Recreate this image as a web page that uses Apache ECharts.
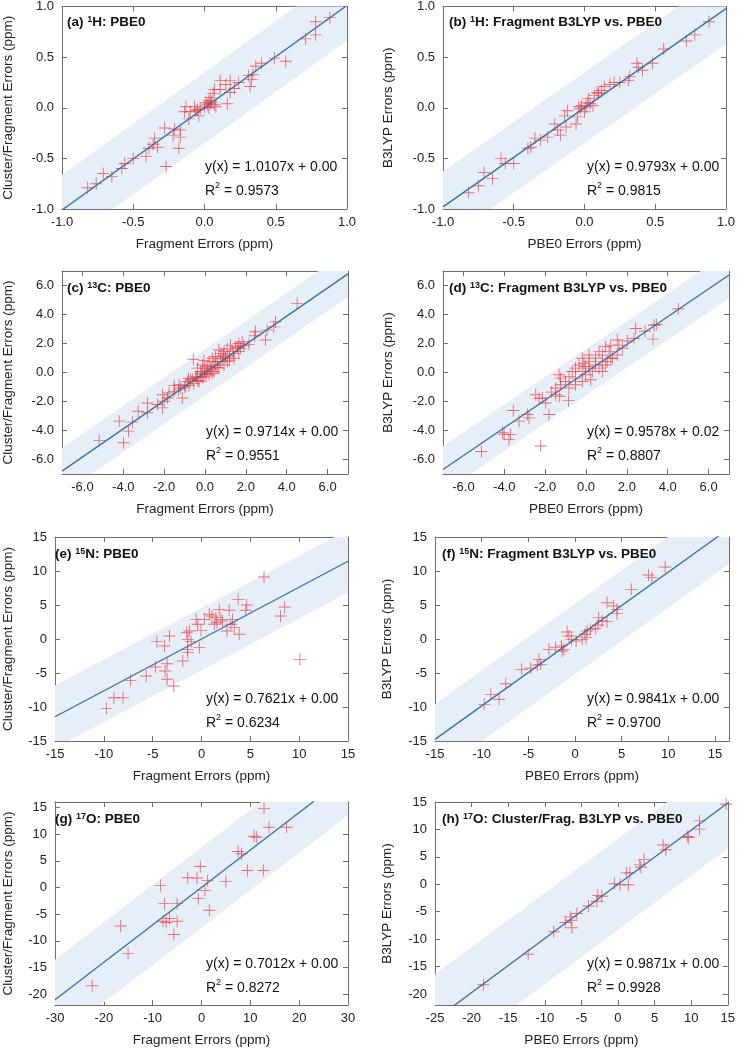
<!DOCTYPE html>
<html>
<head>
<meta charset="utf-8">
<script src="https://cdn.jsdelivr.net/npm/echarts@6/dist/echarts.min.js"></script>
<style>
html, body { margin: 0; padding: 0; background: #fff; }
#chart { width: 738px; height: 1048px; }
</style>
</head>
<body>
<div id="chart"></div>
<script>
// 各面板的数据点 (x, y)
var ptsA = [[0.88,0.89],[0.78,0.85],[0.78,0.72],[0.71,0.68],[0.49,0.49],[0.57,0.46],[0.36,0.41],[0.40,0.44],[0.34,0.33],[0.31,0.32],[0.33,0.28],[0.32,0.21],[0.24,0.25],[0.21,0.19],[0.18,0.27],[0.15,0.23],[0.11,0.27],[0.11,0.18],[0.18,0.15],[0.16,0.04],[0.07,0.18],[0.06,0.14],[0.04,0.10],[0.03,0.07],[0.01,0.05],[0.04,0.04],[0.00,0.01],[0.07,0.03],[0.08,0.01],[-0.03,-0.01],[-0.06,-0.03],[-0.07,0.01],[-0.10,-0.04],[-0.13,0.01],[-0.14,-0.04],[-0.11,-0.11],[-0.04,-0.08],[-0.21,-0.21],[-0.28,-0.20],[-0.22,-0.27],[-0.17,-0.22],[-0.17,-0.29],[-0.18,-0.40],[-0.27,-0.58],[-0.35,-0.30],[-0.36,-0.36],[-0.33,-0.39],[-0.39,-0.40],[-0.41,-0.48],[-0.56,-0.55],[-0.58,-0.60],[-0.50,-0.50],[-0.71,-0.65],[-0.65,-0.68],[-0.76,-0.75],[-0.82,-0.79],[0.02,0.03],[0.05,0.06],[-0.05,-0.02],[0.03,0.00]];
var ptsB = [[0.88,0.85],[0.78,0.72],[0.72,0.66],[0.56,0.58],[0.48,0.44],[0.37,0.44],[0.38,0.40],[0.41,0.37],[0.31,0.27],[0.32,0.31],[0.21,0.25],[0.18,0.23],[0.14,0.21],[0.12,0.17],[0.09,0.15],[0.07,0.12],[0.03,0.09],[0.04,0.04],[0.01,0.01],[-0.03,-0.01],[-0.04,0.01],[0.00,-0.04],[-0.05,-0.09],[-0.06,-0.16],[-0.12,-0.03],[-0.14,-0.08],[-0.13,-0.19],[-0.21,-0.16],[-0.19,-0.22],[-0.17,-0.27],[-0.26,-0.29],[-0.31,-0.32],[-0.35,-0.30],[-0.38,-0.39],[-0.40,-0.40],[-0.56,-0.55],[-0.59,-0.50],[-0.50,-0.55],[-0.71,-0.64],[-0.65,-0.70],[-0.75,-0.77],[-0.82,-0.84],[0.02,0.05],[0.06,0.02],[-0.02,0.02],[0.10,0.14],[0.25,0.25]];
var ptsC = [[4.51,4.75],[3.45,3.49],[3.37,3.15],[3.04,2.92],[2.96,2.24],[2.47,2.81],[2.43,2.53],[2.15,1.94],[1.82,2.12],[1.66,2.00],[1.50,1.78],[1.25,1.89],[1.09,1.62],[1.33,1.44],[0.93,1.44],[0.77,1.32],[0.68,1.55],[0.52,1.10],[0.60,0.75],[0.36,0.98],[0.20,0.75],[-0.05,0.82],[-0.57,0.91],[-0.13,0.52],[0.11,0.41],[-0.37,0.30],[-0.21,0.07],[-0.02,-0.05],[0.20,-0.16],[0.44,0.07],[0.68,0.30],[0.93,0.52],[1.09,0.75],[1.42,0.98],[1.66,1.44],[1.74,1.67],[-0.46,-0.27],[-0.70,-0.50],[-0.29,-0.62],[-0.86,-0.62],[-0.94,-0.89],[-1.19,-1.07],[-1.27,-0.84],[-1.11,-1.76],[-1.51,-1.30],[-1.76,-1.41],[-1.84,-1.76],[-2.08,-1.53],[-2.00,-1.98],[-2.08,-2.44],[-2.33,-2.21],[-2.82,-2.10],[-2.82,-2.78],[-3.27,-2.67],[-3.55,-3.42],[-3.74,-4.04],[-3.99,-4.84],[-4.20,-3.35],[-5.18,-4.68],[-1.51,-0.89],[-0.21,-0.27],[0.28,0.30],[0.44,0.75],[0.77,0.75],[-0.78,-0.89],[-0.60,-0.45],[-0.40,-0.35],[0.10,0.10],[0.30,0.20],[0.50,0.50],[0.85,0.95],[1.00,1.05],[1.20,1.15],[-1.00,-1.00],[-0.15,-0.10],[0.00,0.30],[0.60,0.35],[1.40,1.30],[0.90,1.20],[1.60,1.70],[1.90,1.85],[-0.35,-0.55],[-0.10,-0.35],[0.05,-0.25],[0.35,-0.05],[1.20,0.85],[-0.55,-0.75],[-1.30,-1.20],[-0.80,-0.40]];
var ptsD = [[4.52,4.40],[3.44,3.31],[3.33,3.26],[2.89,2.85],[3.28,2.30],[2.43,3.03],[2.35,2.35],[2.02,2.17],[1.53,2.24],[1.61,1.89],[1.21,1.89],[0.96,1.78],[1.21,0.98],[1.04,0.75],[0.80,1.21],[0.64,1.44],[0.47,0.98],[0.15,1.21],[0.15,0.75],[-0.10,0.64],[-0.18,0.98],[-0.34,0.52],[-0.51,0.30],[-0.67,0.07],[-0.83,-0.27],[-1.24,-0.39],[-1.32,-0.16],[-1.00,-0.62],[-1.24,-0.84],[-1.48,-1.07],[-1.68,-1.35],[-1.48,-1.53],[-1.29,-1.64],[-0.86,-1.94],[-1.81,-2.90],[-2.14,-1.76],[-2.46,-1.53],[-2.30,-1.80],[-1.97,-2.10],[-2.22,-5.07],[-2.79,-3.13],[-2.87,-2.90],[-3.56,-2.62],[-3.28,-3.35],[-3.69,-4.27],[-4.09,-4.15],[-4.01,-4.27],[-3.77,-4.61],[-5.12,-5.45],[-0.18,0.07],[0.15,0.30],[0.47,0.52],[0.80,0.75],[-0.02,-0.16],[0.31,0.07],[0.64,0.30],[0.96,0.52],[-0.51,-0.39],[-0.18,-0.62],[0.23,-0.50],[0.80,0.07],[1.29,0.98],[1.53,1.21],[-0.51,-0.84],[-0.83,-1.07],[-0.02,0.41],[1.13,1.44],[1.78,1.67]];
var ptsE = [[6.40,9.12],[10.07,-2.99],[8.51,4.71],[8.10,3.38],[3.75,5.83],[4.64,5.00],[4.53,4.22],[2.84,4.22],[1.82,4.36],[0.80,3.63],[1.07,3.38],[0.29,2.89],[1.48,3.14],[1.99,2.89],[3.18,2.89],[3.00,2.16],[3.35,1.67],[1.31,2.16],[1.58,2.40],[2.16,2.65],[2.60,1.18],[3.86,0.69],[-0.39,2.16],[-0.56,2.89],[-0.05,1.27],[-1.24,1.18],[-1.41,-0.05],[-1.07,-0.39],[-0.22,-1.27],[-1.51,0.93],[-1.41,-1.52],[-1.41,-2.00],[-1.92,-3.24],[-3.28,0.44],[-3.79,-1.03],[-4.57,-0.39],[-3.52,-3.63],[-3.72,-4.71],[-4.71,-4.12],[-3.52,-5.93],[-2.84,-6.91],[-5.66,-5.44],[-7.26,-6.08],[-8.04,-8.63],[-8.96,-8.63],[-9.74,-10.20]];
var ptsF = [[9.66,10.59],[7.88,9.41],[8.24,9.02],[6.03,7.30],[3.43,5.34],[4.14,4.85],[4.50,4.36],[4.50,3.73],[3.43,2.55],[2.54,3.14],[2.90,2.65],[2.47,2.06],[2.19,1.57],[1.65,1.42],[1.30,1.18],[1.05,0.69],[1.19,0.20],[0.77,-0.05],[0.12,-0.29],[-0.37,-0.05],[-0.84,1.03],[-0.66,0.44],[-2.08,-1.27],[-1.44,-1.03],[-1.37,-1.76],[-1.19,-1.52],[-2.79,-1.52],[-3.86,-2.99],[-3.68,-3.73],[-4.04,-3.82],[-4.75,-4.31],[-5.71,-4.46],[-7.42,-6.57],[-9.02,-8.14],[-8.13,-8.87],[-9.73,-9.61]];
var ptsG = [[12.81,14.81],[13.82,11.27],[17.42,11.27],[10.77,9.58],[11.31,9.40],[7.51,6.73],[8.19,6.30],[9.41,3.19],[12.67,3.19],[4.99,1.14],[-0.24,3.93],[-2.82,1.82],[-0.92,1.76],[1.26,1.32],[0.71,-0.54],[-0.65,-2.09],[1.60,-4.27],[-4.99,-3.03],[-8.39,0.39],[-7.57,-3.03],[-7.91,-6.32],[-7.24,-6.57],[-6.56,-5.82],[-4.99,-6.32],[-5.67,-8.80],[-16.54,-7.20],[-15.04,-12.38],[-22.38,-18.40]];
var ptsH = [[14.78,14.58],[11.15,11.56],[11.15,10.05],[9.47,8.72],[9.66,8.54],[6.17,7.16],[6.53,6.30],[3.57,4.50],[2.98,3.54],[3.13,3.11],[1.64,2.09],[1.18,2.09],[1.41,-0.08],[0.28,-0.08],[-0.49,0.10],[-2.21,-2.19],[-2.76,-2.01],[-2.90,-3.10],[-4.03,-3.95],[-5.62,-5.33],[-6.52,-5.94],[-6.39,-6.54],[-7.20,-6.96],[-6.29,-7.93],[-8.78,-8.65],[-12.27,-12.75],[-18.39,-18.30]];

// 拟合参数 (斜率, 截距, R2) 和阴影带半宽
var slopes = [1.0107, 0.9793, 0.9714, 0.9578, 0.7621, 0.9841, 0.7012, 0.9871];
var intercepts = [0.00, 0.00, 0.00, 0.02, 0.00, 0.00, 0.00, 0.00];
var r2s = ['0.9573', '0.9815', '0.9551', '0.8807', '0.6234', '0.9700', '0.8272', '0.9928'];
var bandHalf = [0.35, 0.35, 1.6, 1.6, 4.6, 5.2, 7.5, 8.3];

// 刻度
var ticksH = [-1, -0.5, 0, 0.5, 1];
var ticksC = [-6, -4, -2, 0, 2, 4, 6];
var ticksN = [-15, -10, -5, 0, 5, 10, 15];
var ticksOgX = [-30, -20, -10, 0, 10, 20, 30];
var ticksOhX = [-25, -20, -15, -10, -5, 0, 5, 10, 15];
var ticksOY = [-20, -15, -10, -5, 0, 5, 10, 15];

// 标题文字
var letters = ['a', 'b', 'c', 'd', 'e', 'f', 'g', 'h'];
var isotopes = ['1', '1', '13', '13', '15', '15', '17', '17'];
var elements = ['H', 'H', 'C', 'C', 'N', 'N', 'O', 'O'];
var methods = ['PBE0', 'Fragment B3LYP vs. PBE0', 'PBE0', 'Fragment B3LYP vs. PBE0', 'PBE0', 'Fragment B3LYP vs. PBE0', 'PBE0', 'Cluster/Frag. B3LYP vs. PBE0'];
var xNames = ['Fragment Errors (ppm)', 'PBE0 Errors (ppm)'];
var yNames = ['Cluster/Fragment Errors (ppm)', 'B3LYP Errors (ppm)'];

var allPts = [ptsA, ptsB, ptsC, ptsD, ptsE, ptsF, ptsG, ptsH];
var xRanges = [[-1, 1], [-1, 1], [-7, 7], [-7, 7], [-15, 15], [-15, 16.5], [-30, 30], [-25, 15]];
var yRanges = [[-1, 1], [-1, 1], [-7, 7], [-7, 7], [-15, 15], [-15, 15], [-22, 16], [-22, 15]];
var xTicks = [ticksH, ticksH, ticksC, ticksC, ticksN, ticksN, ticksOgX, ticksOhX];
var yTicks = [ticksH, ticksH, ticksC, ticksC, ticksN, ticksN, ticksOY, ticksOY];

// 布局 [left, top, width, height]
var boxes = [[62, 5, 285, 204], [443, 5, 286, 204], [61, 271, 287, 203], [443, 271, 286, 203],
             [53, 537, 295, 204], [435, 537, 294, 204], [53, 802, 295, 204], [435, 802, 294, 204]];
var titleDx = [5, 6, 6, 6, 2, 7, 2, 7];
var yNameGap = [47, 48, 47, 48, 40, 41, 40, 41];

var FONT = 'Liberation Sans, Arial, Helvetica, sans-serif';
var axisColor = '#6e6e6e';
var bandColor = '#e6eff8';
var lineColor = '#3670a8';
var plusColor = 'rgba(235,45,50,0.85)';
var plus = 'path://M5.55,0H6.45V5.55H12V6.45H6.45V12H5.55V6.45H0V5.55H5.55Z';

function fmt1(v) { return v.toFixed(1); }
function fmt0(v) { return String(v); }

function makeAxis(dir, gi, range, ticks, fmt, name, gap, mirror) {
    return {
        type: 'value',
        gridIndex: gi,
        min: range[0],
        max: range[1],
        position: mirror ? (dir === 'x' ? 'top' : 'right') : (dir === 'x' ? 'bottom' : 'left'),
        name: mirror ? '' : name,
        nameLocation: 'middle',
        nameGap: gap,
        nameTextStyle: { fontSize: 13.5, color: '#222', fontFamily: FONT },
        axisLine: { show: true, onZero: false, lineStyle: { color: axisColor, width: 1 } },
        axisTick: { show: true, inside: true, length: 5, customValues: ticks, lineStyle: { color: axisColor } },
        axisLabel: { show: !mirror, customValues: ticks, formatter: fmt, fontSize: 13, color: '#222', fontFamily: FONT, margin: dir === 'x' ? 7 : 8 },
        splitLine: { show: false }
    };
}

var option = {
    animation: false,
    backgroundColor: '#fff',
    title: [],
    grid: [],
    xAxis: [],
    yAxis: [],
    series: []
};

for (var i = 0; i < 8; i++) {
    var box = boxes[i];
    var fmt = i < 4 ? fmt1 : fmt0;
    var m = slopes[i], b = intercepts[i], w = bandHalf[i];
    var xr = xRanges[i];
    option.grid.push({ left: box[0], top: box[1], width: box[2], height: box[3] });

    option.xAxis.push(makeAxis('x', i, xr, xTicks[i], fmt, xNames[i % 2], 28, false));
    option.xAxis.push(makeAxis('x', i, xr, xTicks[i], fmt, '', 0, true));
    option.yAxis.push(makeAxis('y', i, yRanges[i], yTicks[i], fmt, yNames[i % 2], yNameGap[i], false));
    option.yAxis.push(makeAxis('y', i, yRanges[i], yTicks[i], fmt, '', 0, true));

    // 阴影带
    option.series.push({
        type: 'custom',
        xAxisIndex: 2 * i,
        yAxisIndex: 2 * i,
        clip: true,
        silent: true,
        z: 1,
        data: [[xr[0], xr[1]]],
        renderItem: (function (m, b, w) {
            return function (params, api) {
                var x0 = api.value(0), x1 = api.value(1);
                var pts = [
                    api.coord([x0, m * x0 + b - w]),
                    api.coord([x1, m * x1 + b - w]),
                    api.coord([x1, m * x1 + b + w]),
                    api.coord([x0, m * x0 + b + w])
                ];
                return { type: 'polygon', shape: { points: pts }, style: { fill: bandColor } };
            };
        })(m, b, w)
    });

    // 数据点
    option.series.push({
        type: 'scatter',
        xAxisIndex: 2 * i,
        yAxisIndex: 2 * i,
        data: allPts[i],
        symbol: plus,
        symbolSize: 12,
        itemStyle: { color: plusColor },
        z: 2
    });

    // 拟合线
    option.series.push({
        type: 'line',
        xAxisIndex: 2 * i,
        yAxisIndex: 2 * i,
        data: [[xr[0], m * xr[0] + b], [xr[1], m * xr[1] + b]],
        symbol: 'none',
        silent: true,
        lineStyle: { color: lineColor, width: 1.3 },
        z: 3
    });

    // 标题
    option.title.push({
        left: box[0] + titleDx[i],
        top: box[1] + 10,
        padding: 0,
        text: '{b|(' + letters[i] + ') }{s|' + isotopes[i] + '}{b|' + elements[i] + ': ' + methods[i] + '}',
        textStyle: {
            rich: {
                b: { fontSize: 13.5, fontWeight: 'bold', color: '#111', fontFamily: FONT },
                s: { fontSize: 9, fontWeight: 'bold', color: '#111', fontFamily: FONT, verticalAlign: 'top' }
            }
        }
    });

    // 拟合方程
    var eqLeft = box[0] + box[2] - 142;
    var bottom = box[1] + box[3];
    option.title.push({
        left: eqLeft,
        top: bottom - 49,
        padding: 0,
        text: 'y(x) = ' + m.toFixed(4) + 'x + ' + b.toFixed(2),
        textStyle: { fontSize: 14, fontWeight: 'normal', color: '#111', fontFamily: FONT }
    });
    option.title.push({
        left: eqLeft,
        top: bottom - 28,
        padding: 0,
        text: '{n|R}{s|2}{n| = ' + r2s[i] + '}',
        textStyle: {
            fontWeight: 'normal',
            rich: {
                n: { fontSize: 14, fontWeight: 'normal', color: '#111', fontFamily: FONT, padding: [3, 0, 0, 0] },
                s: { fontSize: 9, fontWeight: 'normal', color: '#111', fontFamily: FONT, verticalAlign: 'top' }
            }
        }
    });
}

var myChart = echarts.init(document.getElementById('chart'));
myChart.setOption(option);
</script>
</body>
</html>
